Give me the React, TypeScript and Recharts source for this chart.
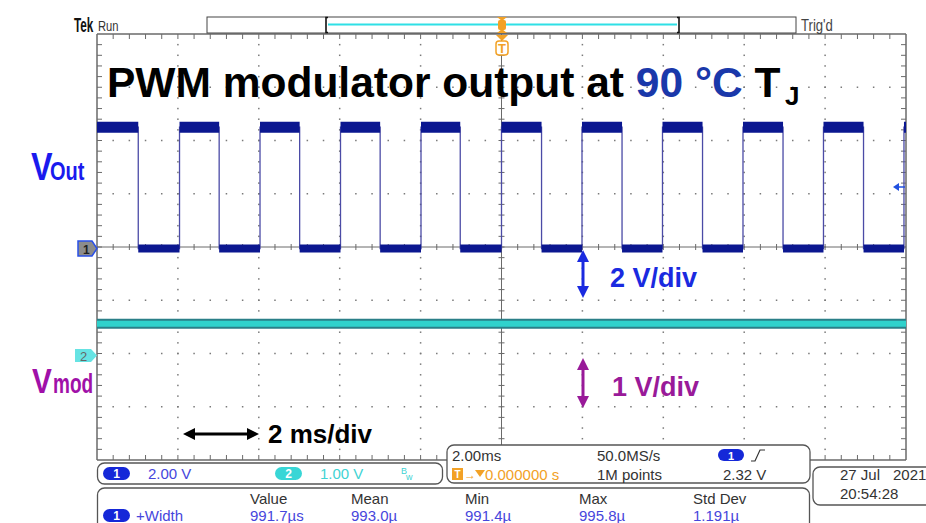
import React from "react";
import { LineChart, Line, XAxis, YAxis, ReferenceLine } from "recharts";

// Ch1 (Vout), 2 V/div: edge times in ms (2 ms/div, 10 div)
const ch1RiseMs = [0, 2.04, 4.03, 6.02, 8.01, 10.0, 11.99, 13.98, 15.97, 17.96, 19.95];
const ch1FallMs = [1.02, 3.02, 5.01, 7.0, 8.98, 10.99, 12.98, 14.97, 16.96, 18.95];
const ch1HighV = 4.5;
const ch1LowV = -0.06;

// Ch2 (Vmod), 1 V/div: flat trace
const ch2Ms = [0, 5, 10, 15, 20];
const ch2V = [0.56, 0.56, 0.56, 0.56, 0.56];

// graticule divisions (time in ms, ch1 volts)
const timeDivMs = [2, 4, 6, 8, 12, 14, 16, 18];
const ch1DivV = [-6, -4, -2, 2, 4, 6];

// readouts
const measHeaders = ["Value", "Mean", "Min", "Max", "Std Dev"];
const measValues = ["991.7µs", "993.0µ", "991.4µ", "995.8µ", "1.191µ"];
const measX = [250, 351, 465, 579, 693];

type Pt = { t: number; v: number | null };

const ch1Step: Pt[] = [
  ...ch1RiseMs.map((t) => ({ t, v: ch1HighV })),
  ...ch1FallMs.map((t) => ({ t, v: ch1LowV })),
]
  .sort((a, b) => a.t - b.t)
  .concat([{ t: 20, v: ch1HighV }]);

// flat parts of the square wave, drawn as thick noisy bands
const flatRuns = (level: number, starts: number[], ends: number[]): Pt[] =>
  starts.flatMap((s, i) => [
    { t: s, v: level },
    { t: ends[i], v: level },
    { t: ends[i], v: null },
  ]);

const ch1HighRuns = flatRuns(ch1HighV, ch1RiseMs, [...ch1FallMs, 20]);
const ch1LowRuns = flatRuns(ch1LowV, ch1FallMs, ch1RiseMs.slice(1));
const ch2Data = ch2Ms.map((t, i) => ({ t, v: ch2V[i] }));

const GRID = "#7a7a7a";
const FRAME = "#6a6a6a";
const FONT = "'Liberation Sans', Arial, sans-serif";

// a graticule line with minor ticks every 1/5 division; dir: 1 = toward +x/+y, -1 opposite, 0 both sides
const ticked = (n: number, dir: number, width: number) => (p: any) => {
  const horiz = Math.abs(p.y1 - p.y2) < 0.5;
  const lo = dir === 0 ? -3 : 0;
  const hi = dir === 0 ? 3 : 5;
  const marks = [];
  for (let i = 1; i < n; i++) {
    const f = i / n;
    const x = p.x1 + (p.x2 - p.x1) * f;
    const y = p.y1 + (p.y2 - p.y1) * f;
    const s = dir === 0 ? 1 : dir;
    marks.push(
      horiz ? (
        <line key={i} x1={x} x2={x} y1={y + lo * s} y2={y + hi * s} />
      ) : (
        <line key={i} x1={x + lo * s} x2={x + hi * s} y1={y} y2={y} />
      )
    );
  }
  return (
    <g stroke={FRAME}>
      <line x1={p.x1} x2={p.x2} y1={p.y1} y2={p.y2} strokeWidth={width} />
      <g strokeWidth={1}>{marks}</g>
    </g>
  );
};

// dotted graticule line: one dot every 1/5 division
const dotted = (n: number) => (p: any) => {
  const dots = [];
  for (let i = 1; i < n; i++) {
    const f = i / n;
    const x = p.x1 + (p.x2 - p.x1) * f;
    const y = p.y1 + (p.y2 - p.y1) * f;
    dots.push(<rect key={i} x={x - 0.75} y={y - 0.75} width={1.5} height={1.5} />);
  }
  return <g fill={GRID}>{dots}</g>;
};

const squeeze = (x: number, y: number, sx: number) => `translate(${x},${y}) scale(${sx},1)`;

function VArrow({ x, y1, y2, color }: { x: number; y1: number; y2: number; color: string }) {
  return (
    <g fill={color} stroke={color}>
      <line x1={x} x2={x} y1={y1 + 10} y2={y2 - 10} strokeWidth={3} />
      <polygon points={`${x},${y1} ${x - 6},${y1 + 12} ${x + 6},${y1 + 12}`} stroke="none" />
      <polygon points={`${x},${y2} ${x - 6},${y2 - 12} ${x + 6},${y2 - 12}`} stroke="none" />
    </g>
  );
}

function Badge({ x, y, label, fill }: { x: number; y: number; label: string; fill: string }) {
  return (
    <g>
      <rect x={x} y={y} width={27} height={13} rx={6.5} fill={fill} />
      <text x={x + 13.5} y={y + 11} fontSize={12} fontWeight="bold" fill="#fff" textAnchor="middle">
        {label}
      </text>
    </g>
  );
}

function Overlay() {
  const readout = "#333";
  const ch1Txt = "#4646dc";
  const ch2Txt = "#3fd3d3";
  const orange = "#f2a126";
  return (
    <svg width={926} height={523} style={{ position: "absolute", left: 0, top: 0 }} fontFamily={FONT}>
      {/* header */}
      <text transform={squeeze(74, 32, 0.56)} fontSize={21} fontWeight="bold" fill="#111">Tek</text>
      <text transform={squeeze(98, 31, 0.8)} fontSize={14} fill="#333">Run</text>
      <rect x={207} y={17} width={589} height={16} fill="#fff" stroke="#444" strokeWidth={1} />
      <path d="M328,17.5 h-2 v15 h2 M677,17.5 h2 v15 h-2" fill="none" stroke="#111" strokeWidth={1.6} />
      <line x1={328} x2={677} y1={24.5} y2={24.5} stroke="#2fe0e6" strokeWidth={2} />
      <polygon points="497,17 507,17 502,21" fill={orange} />
      <rect x={498} y={20} width={8} height={10} rx={2} fill={orange} />
      <polygon points="497,33 507,33 502,29" fill={orange} />
      <text transform={squeeze(801, 31, 0.82)} fontSize={16} fill="#444">Trig'd</text>
      <polygon points="496,35 508,35 502,41" fill={orange} />
      <rect x={496} y={41} width={12} height={14} rx={3} fill="#fff" stroke={orange} strokeWidth={1.5} />
      <text x={502} y={53} fontSize={13} fontWeight="bold" fill={orange} textAnchor="middle">T</text>

      {/* title */}
      <text x={107} y={97} fontSize={42.5} fontWeight="bold" fill="#000">
        PWM modulator output at <tspan fill="#1a38aa">90 °C</tspan> T
      </text>
      <text x={785} y={105} fontSize={26} fontWeight="bold" fill="#000">J</text>

      {/* channel labels */}
      <text transform={squeeze(31, 180, 0.85)} fontSize={38} fontWeight="bold" fill="#1a1aee">V</text>
      <text transform={squeeze(50, 180, 0.8)} fontSize={25} fontWeight="bold" fill="#1a1aee">Out</text>
      <text transform={squeeze(32, 393, 0.85)} fontSize={35} fontWeight="bold" fill="#a010a8">V</text>
      <text transform={squeeze(53, 393, 0.68)} fontSize={28} fontWeight="bold" fill="#a010a8">mod</text>

      <polygon points="78,241 92,241 97,248.5 92,256 78,256" fill="#8c8c8c" stroke="#2a50e8" strokeWidth={1.5} />
      <text x={83} y={253.5} fontSize={12} fontWeight="bold" fill="#222">1</text>
      <polygon points="75,349 91,349 97,355.5 91,362 75,362" fill="#66e3e3" />
      <text x={80} y={361} fontSize={13} fill="#666">2</text>

      <polygon points="893,187 899,183 899,191" fill="#2050e0" />
      <line x1={898} x2={905} y1={187} y2={187} stroke="#2050e0" strokeWidth={1.5} />

      {/* scale annotations */}
      <VArrow x={583} y1={250} y2={298} color="#1a2ae0" />
      <text x={610} y={287} fontSize={27} fontWeight="bold" fill="#1a2ae0">2 V/div</text>
      <VArrow x={583} y1={358} y2={408} color="#991a99" />
      <text x={612} y={396} fontSize={27} fontWeight="bold" fill="#991a99">1 V/div</text>
      <g fill="#000" stroke="#000">
        <line x1={192} x2={250} y1={434} y2={434} strokeWidth={3} />
        <polygon points="183,434 195,428 195,440" stroke="none" />
        <polygon points="259,434 247,428 247,440" stroke="none" />
      </g>
      <text x={268} y={443} fontSize={26} fontWeight="bold" fill="#000">2 ms/div</text>

      {/* readout boxes */}
      <g fontSize={15}>
        <rect x={97.5} y={463} width={345} height={21} rx={7} fill="#fff" stroke="#555" strokeWidth={1.3} />
        <Badge x={103} y={467} label="1" fill="#1528d8" />
        <text x={148} y={479} fill={ch1Txt}>2.00 V</text>
        <Badge x={275} y={467} label="2" fill="#38d6d6" />
        <text x={320} y={479} fill={ch2Txt}>1.00 V</text>
        <text x={401} y={474} fontSize={9} fill={ch2Txt}>B</text>
        <text x={406} y={480} fontSize={9} fill={ch2Txt}>w</text>

        <rect x={447} y={445} width={363} height={38} rx={7} fill="#fff" stroke="#555" strokeWidth={1.3} />
        <text x={452} y={461} fill={readout}>2.00ms</text>
        <text x={597} y={461} fill={readout}>50.0MS/s</text>
        <rect x={718} y={449} width={26} height={12} rx={6} fill="#1528d8" />
        <text x={731} y={459.5} fontSize={11} fontWeight="bold" fill="#fff" textAnchor="middle">1</text>
        <polyline points="751,461 755,461 760,450 765,450" fill="none" stroke={readout} strokeWidth={1.2} />
        <rect x={452} y={468} width={11} height={12} fill={orange} />
        <text x={457.5} y={478} fontSize={10} fontWeight="bold" fill="#fff" textAnchor="middle">T</text>
        <text x={464} y={479} fontSize={12} fill={orange}>→</text>
        <polygon points="475,470 485,470 480,477" fill={orange} />
        <text x={485} y={480} fill={orange}>0.000000 s</text>
        <text x={597} y={480} fill={readout}>1M points</text>
        <text x={723} y={480} fill={readout}>2.32 V</text>

        <rect x={813} y={467} width={130} height={38} rx={7} fill="#fff" stroke="#555" strokeWidth={1.3} />
        <text x={840} y={480} fill={readout}>27 Jul</text>
        <text x={893} y={480} fill={readout}>2021</text>
        <text x={840} y={499} fill={readout}>20:54:28</text>

        <rect x={97.5} y={488} width={712} height={50} rx={7} fill="#fff" stroke="#555" strokeWidth={1.3} />
        {measHeaders.map((h, i) => (
          <text key={h} x={measX[i]} y={504} fill={readout}>{h}</text>
        ))}
        <Badge x={103} y={509} label="1" fill="#1528d8" />
        <text x={136} y={521} fill={ch1Txt}>+Width</text>
        {measValues.map((v, i) => (
          <text key={i} x={measX[i]} y={521} fill={ch1Txt}>{v}</text>
        ))}
      </g>
    </svg>
  );
}

export default function App() {
  const ax = { xAxisId: "t", yAxisId: "v1" } as const;
  return (
    <div style={{ position: "absolute", left: 0, top: 0, width: 926, height: 523, background: "#fff" }}>
      <LineChart width={926} height={523} margin={{ top: 34, right: 20, bottom: 63, left: 97 }}>
        <XAxis xAxisId="t" dataKey="t" type="number" domain={[0, 20]} allowDataOverflow hide />
        <YAxis yAxisId="v1" type="number" domain={[-8, 8]} allowDataOverflow hide />
        <YAxis yAxisId="v2" type="number" domain={[-2, 6]} allowDataOverflow hide />

        {/* dotted graticule */}
        {timeDivMs.map((t) => (
          <ReferenceLine key={`gx${t}`} {...ax} x={t} shape={dotted(40)} />
        ))}
        {ch1DivV.map((v) => (
          <ReferenceLine key={`gy${v}`} {...ax} y={v} shape={dotted(50)} />
        ))}

        {/* frame and centre lines with minor ticks */}
        <ReferenceLine {...ax} y={8} shape={ticked(50, 1, 1.5)} />
        <ReferenceLine {...ax} y={-8} shape={ticked(50, -1, 1.5)} />
        <ReferenceLine {...ax} x={0} shape={ticked(40, 1, 1.5)} />
        <ReferenceLine {...ax} x={20} shape={ticked(40, -1, 1.5)} />
        <ReferenceLine {...ax} y={0} shape={ticked(50, 0, 1)} />
        <ReferenceLine {...ax} x={10} shape={ticked(40, 0, 1)} />

        <Line xAxisId="t" yAxisId="v2" data={ch2Data} dataKey="v" type="linear" stroke="#2b7f88"
          strokeWidth={10} dot={false} activeDot={false} isAnimationActive={false} />
        <Line xAxisId="t" yAxisId="v2" data={ch2Data} dataKey="v" type="linear" stroke="#2fd2cc"
          strokeWidth={6} dot={false} activeDot={false} isAnimationActive={false} />

        <Line {...ax} data={ch1Step} dataKey="v" type="stepAfter" stroke="#4b4ba6"
          strokeWidth={1.3} dot={false} activeDot={false} isAnimationActive={false} />
        <Line {...ax} data={ch1LowRuns} dataKey="v" type="linear" stroke="#0b1790"
          strokeWidth={8} connectNulls={false} dot={false} activeDot={false} isAnimationActive={false} />
        <Line {...ax} data={ch1HighRuns} dataKey="v" type="linear" stroke="#0b1790"
          strokeWidth={11} connectNulls={false} dot={false} activeDot={false} isAnimationActive={false} />
      </LineChart>
      <Overlay />
    </div>
  );
}
